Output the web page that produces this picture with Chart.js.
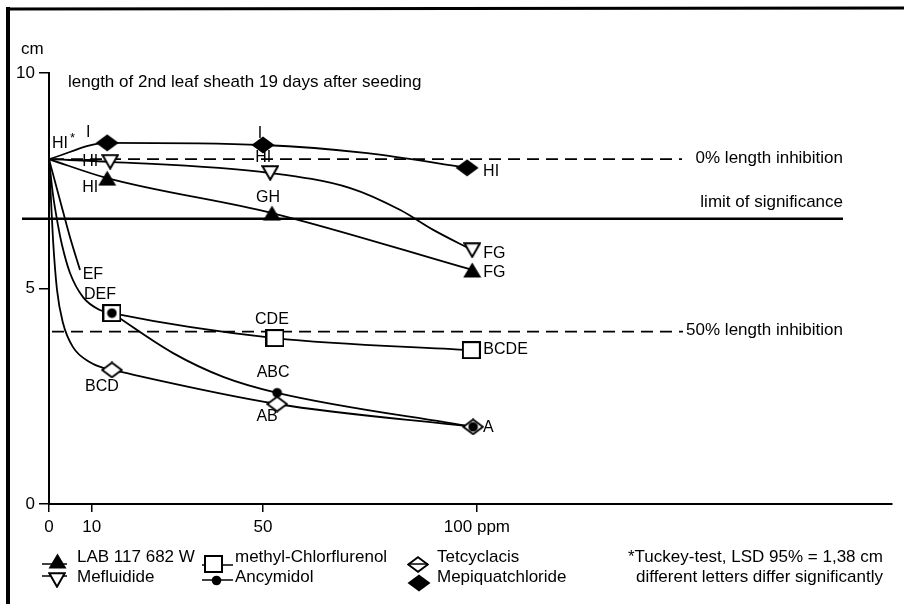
<!DOCTYPE html>
<html>
<head>
<meta charset="utf-8">
<script src="https://cdn.jsdelivr.net/npm/chart.js@4.4.1/dist/chart.umd.min.js"></script>
<style>
  html, body { margin: 0; padding: 0; background: #fff; }
  canvas { display: block; }
</style>
</head>
<body>
<canvas id="chart" width="904" height="604"></canvas>
<script>
const FONT = '"Liberation Sans", Arial, Helvetica, sans-serif';

// ---------- axis ticks ----------
const xTicks = [0, 10, 50, 100];
const yStep = 5;

// ---------- untreated control (ppm, cm) ----------
const controlDose = 0;
const controlLength = 8.0;
const controlLetters = 'HI';

// ---------- measured sheath length per growth regulator ----------
const labDoses = [13.6, 52.1, 98.9];
const labLength = [7.56, 6.75, 5.43];
const labLetters = ['HI', 'GH', 'FG'];

const mefluidideDoses = [14.3, 51.7, 98.9];
const mefluidideLength = [7.94, 7.68, 5.89];
const mefluidideLetters = ['HI', 'HI', 'FG'];

const chlorflurenolDoses = [14.7, 52.8, 98.7];
const chlorflurenolLength = [4.43, 3.85, 3.57];
const chlorflurenolLetters = ['DEF', 'CDE', 'BCDE'];

const ancymidolDoses = [14.7, 53.3, 99.1];
const ancymidolLength = [4.43, 2.58, 1.79];
const ancymidolLetters = ['EF', 'ABC', 'A'];

const tetcyclacisDoses = [14.7, 53.3, 99.1];
const tetcyclacisLength = [3.11, 2.32, 1.79];
const tetcyclacisLetters = ['BCD', 'AB', ''];

const mepiquatDoses = [13.6, 50.0, 97.7];
const mepiquatLength = [8.38, 8.33, 7.80];
const mepiquatLetters = ['I', 'I', 'HI'];

// ---------- hand-fitted response curves (ppm, cm) ----------
const labCurveDose = [0, 13.6, 52.1, 98.9];
const labCurveLength = [8.0, 7.56, 6.75, 5.43];

const mefluidideCurveDose = [0, 14.3, 51.7, 70.4, 82.1, 89.8, 98.9];
const mefluidideCurveLength = [8.0, 7.94, 7.68, 7.33, 6.82, 6.36, 5.89];

const mepiquatCurveDose = [0, 13.6, 50.0, 74.4, 97.7];
const mepiquatCurveLength = [8.0, 8.38, 8.33, 8.14, 7.80];

const chlorflurenolCurveDose = [0, 0.94, 2.10, 3.04, 4.91, 7.95, 11.9, 14.7, 52.8, 98.7];
const chlorflurenolCurveLength = [8.0, 7.17, 6.47, 6.01, 5.36, 4.80, 4.50, 4.43, 3.85, 3.57];

const tetcyclacisCurveDose = [0, 0.47, 0.94, 1.87, 3.27, 5.61, 9.59, 12.6, 14.7, 53.3, 99.1];
const tetcyclacisCurveLength = [8.0, 7.05, 6.13, 4.97, 4.20, 3.64, 3.29, 3.16, 3.11, 2.32, 1.79];

const ancymidolLeadDose = [0, 2.57, 4.91, 7.25];
const ancymidolLeadLength = [8.0, 7.05, 6.19, 5.43];

const ancymidolCurveDose = [14.7, 29.0, 40.7, 53.3, 99.1];
const ancymidolCurveLength = [4.43, 3.50, 2.95, 2.58, 1.79];

// ---------- reference levels (cm) ----------
const zeroInhibition = 8.0;
const significanceLimit = 6.62;   // 8.0 - LSD 1.38
const halfInhibition = 4.0;

// ---------- marker glyphs ----------
function glyph(w, h, paint) {
  const c = document.createElement('canvas');
  c.width = w; c.height = h;
  const g = c.getContext('2d');
  g.lineJoin = 'miter';
  paint(g, w, h);
  return c;
}
const triUp = glyph(19, 16, (g, w, h) => {
  g.beginPath(); g.moveTo(w / 2, 0.5); g.lineTo(w - 0.5, h - 0.5); g.lineTo(0.5, h - 0.5); g.closePath();
  g.fillStyle = '#000'; g.fill();
});
const triDown = glyph(18, 16, (g, w, h) => {
  g.beginPath(); g.moveTo(1.3, 1.3); g.lineTo(w - 1.3, 1.3); g.lineTo(w / 2, h - 1.3); g.closePath();
  g.fillStyle = '#fff'; g.fill(); g.lineWidth = 2; g.strokeStyle = '#000'; g.stroke();
});
const squareOpen = glyph(19, 18, (g, w, h) => {
  g.fillStyle = '#fff'; g.fillRect(1, 1, w - 2, h - 2);
  g.lineWidth = 2; g.strokeStyle = '#000'; g.strokeRect(1, 1, w - 2, h - 2);
});
const diamondOpen = glyph(22, 17, (g, w, h) => {
  g.beginPath(); g.moveTo(1.2, h / 2); g.lineTo(w / 2, 1.2); g.lineTo(w - 1.2, h / 2); g.lineTo(w / 2, h - 1.2); g.closePath();
  g.fillStyle = '#fff'; g.fill(); g.lineWidth = 1.8; g.strokeStyle = '#000'; g.stroke();
});
const diamondFilled = glyph(24, 18, (g, w, h) => {
  g.beginPath(); g.moveTo(0.5, h / 2); g.lineTo(w / 2, 0.5); g.lineTo(w - 0.5, h / 2); g.lineTo(w / 2, h - 0.5); g.closePath();
  g.fillStyle = '#000'; g.fill();
});
const dot = glyph(11, 11, (g, w, h) => {
  g.beginPath(); g.arc(w / 2, h / 2, 4.8, 0, Math.PI * 2); g.fillStyle = '#000'; g.fill();
});

const pts = (xs, ys) => xs.map((x, i) => ({ x, y: ys[i] }));

function curve(xs, ys) {
  return {
    data: pts(xs, ys), showLine: true, pointRadius: 0, borderColor: '#000',
    borderWidth: 1.8, cubicInterpolationMode: 'monotone', fill: false, order: 10
  };
}
function marks(xs, ys, style, order) {
  return {
    data: pts(xs, ys), showLine: false, pointStyle: style, pointRadius: 9,
    pointHoverRadius: 9, order
  };
}

const datasets = [
  curve(labCurveDose, labCurveLength),
  curve(mefluidideCurveDose, mefluidideCurveLength),
  curve(mepiquatCurveDose, mepiquatCurveLength),
  curve(chlorflurenolCurveDose, chlorflurenolCurveLength),
  curve(tetcyclacisCurveDose, tetcyclacisCurveLength),
  curve(ancymidolLeadDose, ancymidolLeadLength),
  curve(ancymidolCurveDose, ancymidolCurveLength),
  marks(labDoses, labLength, triUp, 5),
  marks(mefluidideDoses, mefluidideLength, triDown, 5),
  marks(mepiquatDoses, mepiquatLength, diamondFilled, 5),
  marks(chlorflurenolDoses, chlorflurenolLength, squareOpen, 5),
  marks(tetcyclacisDoses, tetcyclacisLength, diamondOpen, 5),
  marks(ancymidolDoses, ancymidolLength, dot, 1)
];

// letter groups beside the marks: [dx, dy, align] for each dose
const letterGroups = [
  { doses: labDoses, len: labLength, letters: labLetters, at: [[-17, 9, 'center'], [-4, -15, 'center'], [11, 3, 'left']] },
  { doses: mefluidideDoses, len: mefluidideLength, letters: mefluidideLetters, at: [[-20, 0, 'center'], [-7, -15, 'center'], [11, 3, 'left']] },
  { doses: mepiquatDoses, len: mepiquatLength, letters: mepiquatLetters, at: [[-19, -10, 'center'], [-3, -11, 'center'], [16, 4, 'left']] },
  { doses: chlorflurenolDoses, len: chlorflurenolLength, letters: chlorflurenolLetters, at: [[-12, -18, 'center'], [-3, -18, 'center'], [12, -1, 'left']] },
  { doses: ancymidolDoses, len: ancymidolLength, letters: ancymidolLetters, at: [[-19, -38, 'center'], [-4, -20, 'center'], [10, 1, 'left']] },
  { doses: tetcyclacisDoses, len: tetcyclacisLength, letters: tetcyclacisLetters, at: [[-10, 17, 'center'], [-10, 13, 'center'], [0, 0, 'left']] }
];

const decorations = {
  id: 'decorations',
  beforeDatasetsDraw(chart) {
    const { ctx, scales: { x, y } } = chart;
    ctx.save();
    ctx.strokeStyle = '#000';
    // 0 % and 50 % inhibition (dashed), limit of significance (solid)
    ctx.lineWidth = 1.8;
    ctx.setLineDash([12, 7]);
    let py = y.getPixelForValue(zeroInhibition);
    ctx.beginPath(); ctx.moveTo(x.left + 3, py); ctx.lineTo(682, py); ctx.stroke();
    py = y.getPixelForValue(halfInhibition);
    ctx.beginPath(); ctx.moveTo(x.left + 3, py); ctx.lineTo(683, py); ctx.stroke();
    ctx.setLineDash([]);
    ctx.lineWidth = 2.6;
    py = y.getPixelForValue(significanceLimit);
    ctx.beginPath(); ctx.moveTo(22, py); ctx.lineTo(843, py); ctx.stroke();
    ctx.restore();
  },
  afterDraw(chart) {
    const { ctx, scales: { x, y } } = chart;
    ctx.save();
    ctx.fillStyle = '#000';
    ctx.strokeStyle = '#000';
    ctx.textBaseline = 'middle';

    // frame
    ctx.lineWidth = 3;
    ctx.beginPath(); ctx.moveTo(6, 9); ctx.lineTo(904, 8); ctx.stroke();
    ctx.lineWidth = 4;
    ctx.beginPath(); ctx.moveTo(8, 7); ctx.lineTo(8, 604); ctx.stroke();

    // unit and heading
    ctx.font = `17px ${FONT}`;
    ctx.textAlign = 'left';
    ctx.fillText('cm', 21, 49);
    ctx.fillText('length of 2nd leaf sheath 19 days after seeding', 68, 82);

    // reference line captions
    ctx.textAlign = 'right';
    ctx.fillText('0% length inhibition', 843, y.getPixelForValue(zeroInhibition) - 1);
    ctx.fillText('limit of significance', 843, y.getPixelForValue(significanceLimit) - 16);
    ctx.fillText('50% length inhibition', 843, y.getPixelForValue(halfInhibition) - 1);

    // significance letters
    ctx.font = `16px ${FONT}`;
    const cx = x.getPixelForValue(controlDose), cy = y.getPixelForValue(controlLength);
    ctx.textAlign = 'left';
    ctx.fillText(controlLetters, cx + 3, cy - 16);
    const w = ctx.measureText(controlLetters).width;
    ctx.font = `13px ${FONT}`;
    ctx.fillText('*', cx + 5 + w, cy - 21);
    ctx.font = `16px ${FONT}`;
    letterGroups.forEach(gp => {
      gp.letters.forEach((t, i) => {
        if (!t) return;
        const [dx, dy, al] = gp.at[i];
        ctx.textAlign = al;
        ctx.fillText(t, x.getPixelForValue(gp.doses[i]) + dx, y.getPixelForValue(gp.len[i]) + dy);
      });
    });

    // key
    const keyLine = (x0, x1, yy) => {
      ctx.lineWidth = 1.5;
      ctx.beginPath(); ctx.moveTo(x0, yy); ctx.lineTo(x1, yy); ctx.stroke();
    };
    const put = (img, px, pyy) => ctx.drawImage(img, Math.round(px - img.width / 2), Math.round(pyy - img.height / 2));
    keyLine(42, 67, 564); put(triUp, 57, 561);
    keyLine(42, 67, 576); put(triDown, 57, 580);
    keyLine(202, 233, 565); put(squareOpen, 213, 564);
    keyLine(202, 233, 580); put(dot, 216, 580);
    put(diamondOpen, 418, 564); keyLine(408, 428, 564);
    put(diamondFilled, 419, 583);

    ctx.font = `17px ${FONT}`;
    ctx.textAlign = 'left';
    ctx.fillText('LAB 117 682 W', 77, 557);
    ctx.fillText('Mefluidide', 77, 577);
    ctx.fillText('methyl-Chlorflurenol', 235, 557);
    ctx.fillText('Ancymidol', 235, 577);
    ctx.fillText('Tetcyclacis', 437, 557);
    ctx.fillText('Mepiquatchloride', 437, 577);
    ctx.fillText('*Tuckey-test, LSD 95% = 1,38 cm', 628, 557);
    ctx.fillText('different letters differ significantly', 636, 577);
    ctx.restore();
  }
};

new Chart(document.getElementById('chart'), {
  type: 'scatter',
  data: { datasets },
  options: {
    responsive: false,
    animation: false,
    devicePixelRatio: 1,
    layout: { padding: { left: 0, top: 73, right: 12, bottom: 0 } },
    plugins: { legend: { display: false }, tooltip: { enabled: false } },
    scales: {
      x: {
        type: 'linear', min: 0, max: 197,
        afterFit(s) { s.height = 100; },
        afterBuildTicks(s) { s.ticks = xTicks.map(v => ({ value: v })); },
        grid: { display: true, drawOnChartArea: false, drawTicks: true, tickLength: 8, color: '#000', lineWidth: 1.5 },
        border: { display: true, color: '#000', width: 2 },
        ticks: {
          color: '#000', font: { family: FONT, size: 17 }, padding: 5,
          maxRotation: 0, autoSkip: false,
          callback: v => (v === 100 ? '100 ppm' : String(v))
        }
      },
      y: {
        type: 'linear', min: 0, max: 10,
        afterFit(s) { s.width = 49; },
        grid: { display: true, drawOnChartArea: false, drawTicks: true, tickLength: 10, color: '#000', lineWidth: 1.5 },
        border: { display: true, color: '#000', width: 2 },
        ticks: { stepSize: yStep, color: '#000', font: { family: FONT, size: 17 }, padding: 4 }
      }
    }
  },
  plugins: [decorations]
});
</script>
</body>
</html>
